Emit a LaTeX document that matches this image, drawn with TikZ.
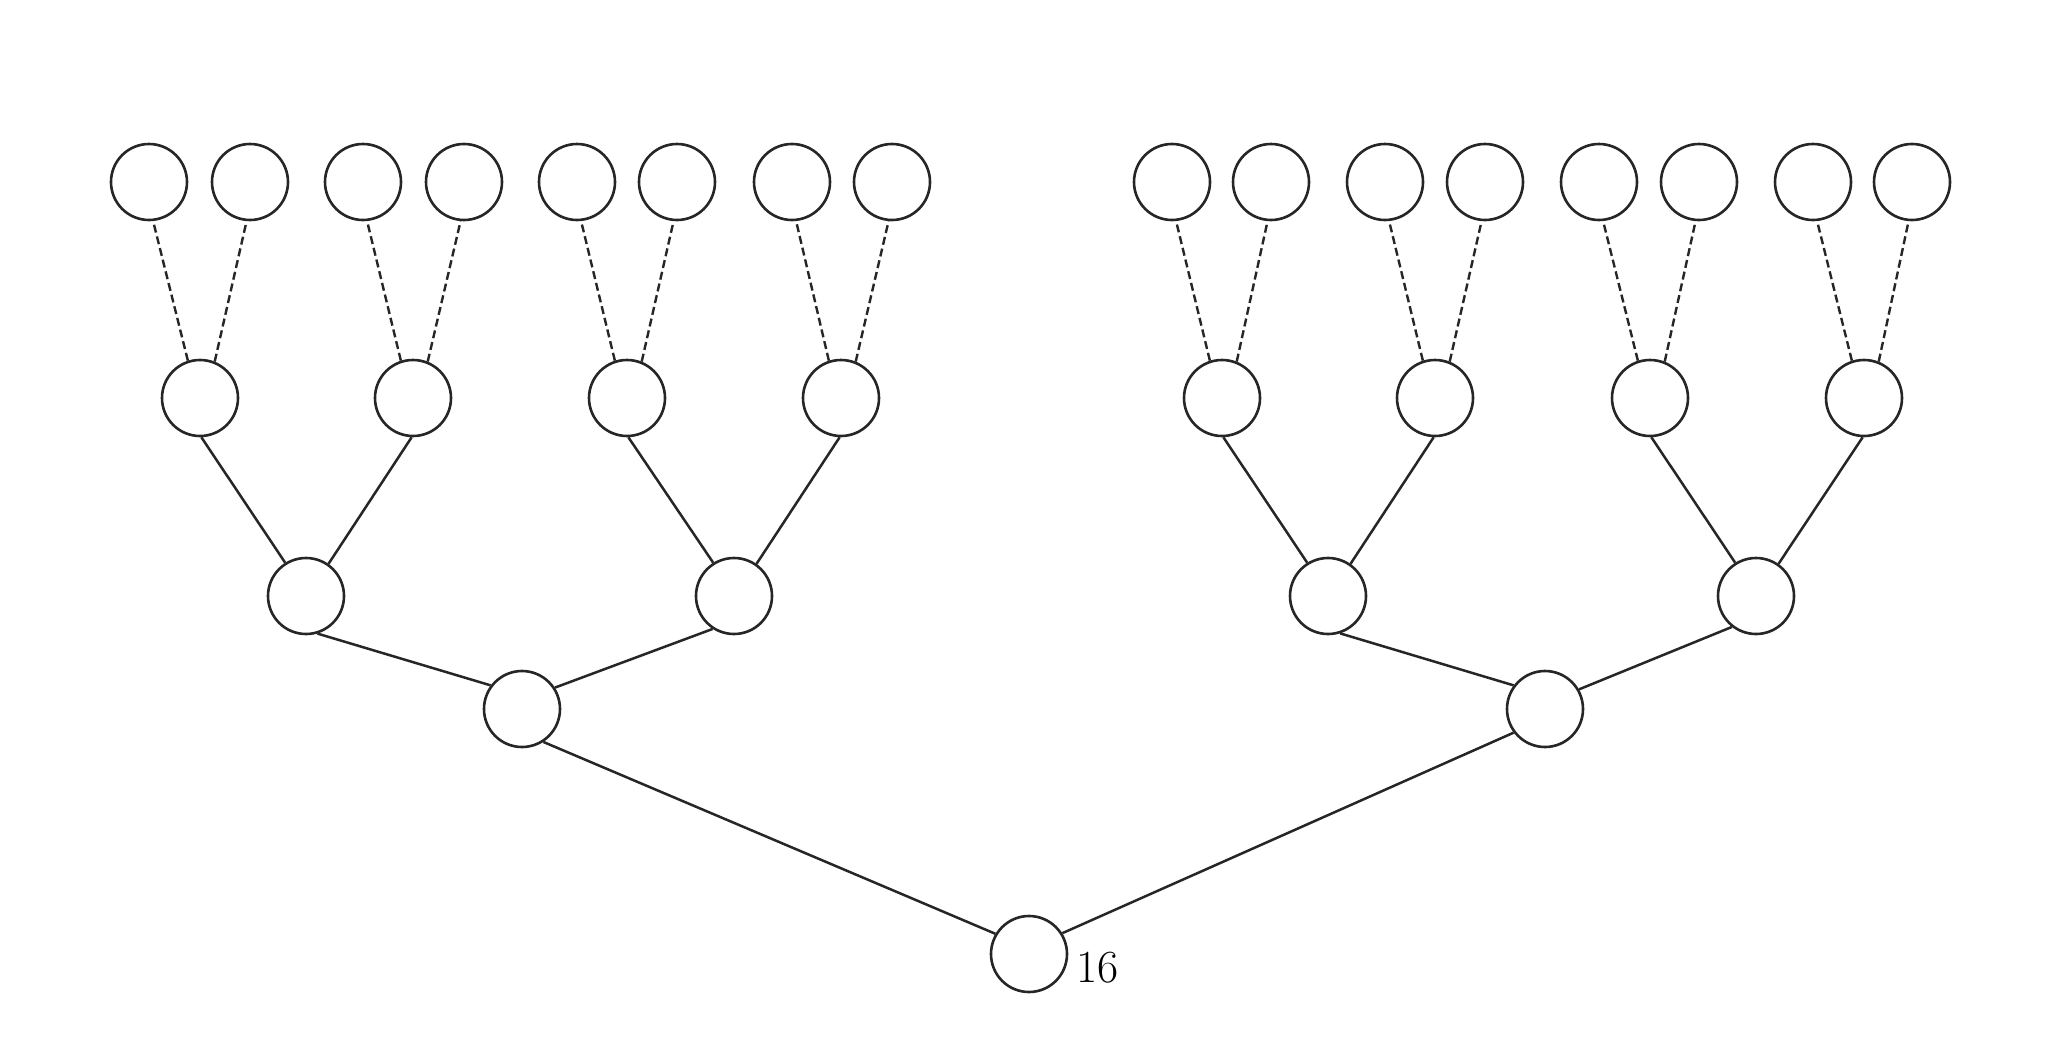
\documentclass[tikz,border=0pt]{standalone}
\begin{document}
\begin{tikzpicture}[x=1pt,y=-1pt,
  vert/.style={circle,draw=black!85,line width=2.6pt,minimum size=76pt,inner sep=0pt},
  solidedge/.style={draw=black!85,line width=2.5pt},
  dashedge/.style={draw=black!85,line width=2.4pt,dash pattern=on 8pt off 4pt}]
\useasboundingbox[fill=white] (0,0) rectangle (2048,1047);
% root
\node[vert] (r) at (1029,954) {};
\node[anchor=west,font=\fontsize{46}{46}\selectfont,inner sep=0pt] (lab) at (1076,968) {16};
% level 1
\node[vert] (a1) at (522,709) {};
\node[vert] (a2) at (1545,709) {};
% level 2
\foreach \i/\x in {1/306,2/734,3/1328,4/1756}{\node[vert] (b\i) at (\x,596) {};}
% level 3
\foreach \i/\x in {1/200,2/413,3/627,4/841,5/1222,6/1435,7/1650,8/1864}{\node[vert] (c\i) at (\x,398) {};}
% leaves
\foreach \i/\x in {1/149,2/250,3/363,4/464,5/577,6/677,7/792,8/892,9/1172,10/1271,11/1385,12/1485,13/1599,14/1699,15/1813,16/1912}{\node[vert] (d\i) at (\x,182) {};}
% edges
\draw[solidedge] (r.149) -- (a1.-57);
\draw[solidedge] (r.32) -- (a2.-143);
\draw[solidedge] (a1.143) -- (b1.-73);
\draw[solidedge] (a1.33) -- (b2.-123);
\draw[solidedge] (a2.143) -- (b3.-72);
\draw[solidedge] (a2.30) -- (b4.-128);
\foreach \b/\c/\d in {1/1/2,2/3/4,3/5/6,4/7/8}{
  \draw[solidedge] (b\b.122) -- (c\c.-88);
  \draw[solidedge] (b\b.55) -- (c\d.-92);
}
\foreach \c in {1,...,8}{
  \pgfmathtruncatemacro{\l}{2*\c-1}
  \pgfmathtruncatemacro{\m}{2*\c}
  \draw[dashedge] (c\c.108) -- (d\l.-84);
  \draw[dashedge] (c\c.68) -- (d\m.-95);
}
\end{tikzpicture}
\end{document}
